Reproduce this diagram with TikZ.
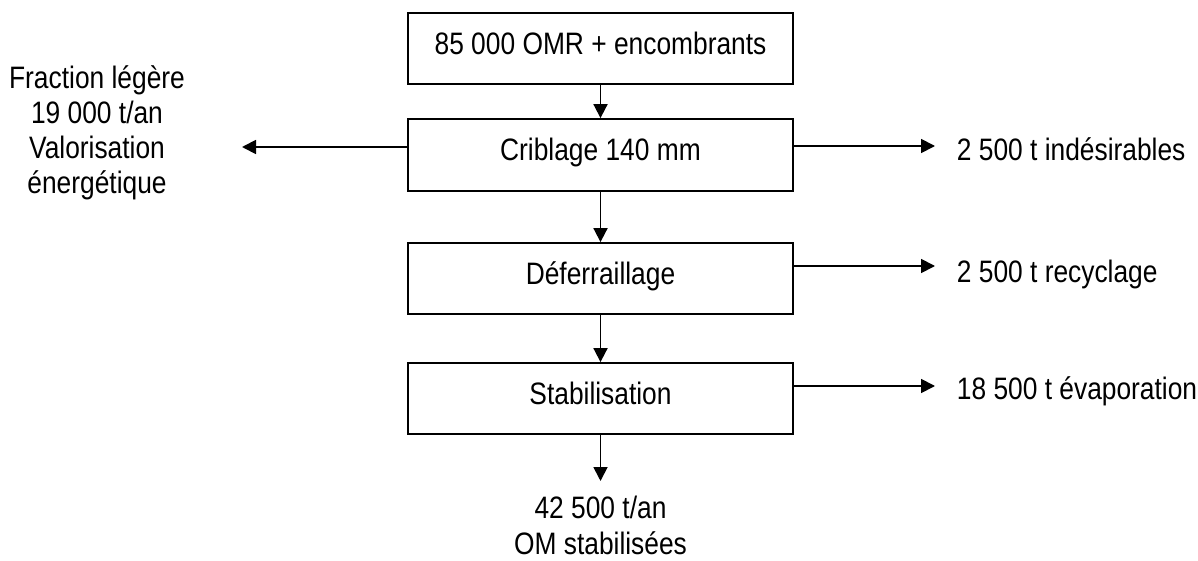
\documentclass[tikz,border=0pt]{standalone}
\usepackage{fontspec}
\setmainfont{Liberation Sans}[FakeStretch=0.85]
\usetikzlibrary{arrows.meta}
\begin{document}
\begin{tikzpicture}[x=1pt, y=1pt, line width=1.8pt,
	stage/.style={draw, rectangle, minimum width=385pt, minimum height=71pt, inner sep=0pt,
		font=\fontsize{31}{35}\selectfont, text height=22pt, text depth=10pt},
	lbl/.style={inner sep=0pt, font=\fontsize{31}{35}\selectfont, text height=22pt, text depth=0pt},
	flow/.style={-{Triangle[length=14pt,width=14pt]}}]
	\useasboundingbox (0,0) rectangle (1198,560);
	\node[stage] (omr) at (600.5,511.5) {85 000 OMR + encombrants};
	\node[stage, minimum height=72pt] (crib) at (600.5,405) {Criblage 140 mm};
	\node[stage] (defer) at (600.5,281.5) {Déferraillage};
	\node[stage] (stab) at (600.5,161.5) {Stabilisation};
	\coordinate (tipleg) at (242,413);
	\coordinate (tipind) at (935,414);
	\coordinate (tiprec) at (935,294);
	\coordinate (tipeva) at (935,174);
	\coordinate (tipout) at (600.5,79);
	\node[inner sep=0pt, align=center, anchor=north, font=\fontsize{31}{35}\selectfont] (leg) at (97,495)
		{Fraction légère\\19 000 t/an\\Valorisation\\énergétique};
	\node[lbl, anchor=west] (ind) at (956,410) {2 500 t indésirables};
	\node[lbl, anchor=west] (rec) at (956,288) {2 500 t recyclage};
	\node[lbl, anchor=west] (eva) at (956,172) {18 500 t évaporation};
	\node[inner sep=0pt, align=center, anchor=north, font=\fontsize{31}{36}\selectfont] (out) at (600.5,65)
		{42 500 t/an\\OM stabilisées};
	\draw[flow] (omr) -- (crib);
	\draw[flow] (crib) -- (defer);
	\draw[flow] (defer) -- (stab);
	\draw[flow] (stab) -- (tipout);
	\draw[flow] (crib.west |- tipleg) -- (tipleg);
	\draw[flow] (crib.east |- tipind) -- (tipind);
	\draw[flow] (defer.east |- tiprec) -- (tiprec);
	\draw[flow] (stab.east |- tipeva) -- (tipeva);
\end{tikzpicture}
\end{document}
